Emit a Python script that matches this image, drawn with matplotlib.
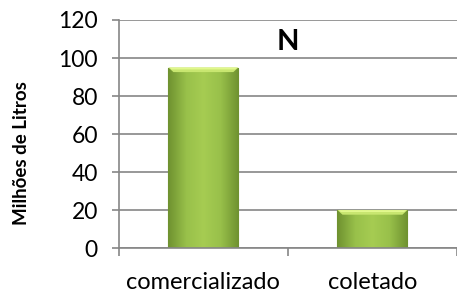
import numpy as np
import matplotlib.pyplot as plt
from matplotlib.colors import LinearSegmentedColormap

categories = ['comercializado', 'coletado']
values = [95, 20]
yticks = [0, 20, 40, 60, 80, 100, 120]

plt.rcParams['font.family'] = ['Lato', 'DejaVu Sans']

fig = plt.figure(figsize=(4.57, 2.94), dpi=100)
ax = fig.add_axes([0.260, 0.156, 0.74, 0.776])

x = np.arange(len(categories))
bw = 0.414
bars = ax.bar(x, values, width=bw, color='#9bc24a', edgecolor='#6f8f30', linewidth=0.8, zorder=3)

# soft gradient inside each bar, lighter bevel at the top
cmap = LinearSegmentedColormap.from_list('g', ['#6f9230', '#98c04a', '#a6cc52', '#98c04a', '#6f9230'])
grad = np.linspace(0, 1, 64).reshape(1, -1)
for b in bars:
    x0, w, h = b.get_x(), b.get_width(), b.get_height()
    im = ax.imshow(grad, cmap=cmap, aspect='auto', extent=[x0, x0 + w, 0, h], zorder=3.5)
    im.set_clip_path(b)
    ax.fill([x0, x0 + w, x0 + w - 0.03, x0 + 0.03], [h, h, h - 2.4, h - 2.4],
            color='#c8e670', lw=0, zorder=4)
    ax.fill([x0 + 0.005, x0 + w - 0.005, x0 + w - 0.02, x0 + 0.02], [h, h, h - 1.0, h - 1.0],
            color='#e2f88e', lw=0, zorder=4.1)

ax.set_xlim(-0.5, 1.5)
ax.set_ylim(0, 120)
ax.set_yticks(yticks)
ax.set_yticklabels([str(v) for v in yticks], fontsize=16.5)
ax.set_xticks(x)
ax.set_xticklabels(categories, fontsize=17)
ax.set_xticks([-0.5, 0.5, 1.5], minor=True)
ax.tick_params(axis='x', which='major', length=0, pad=17)
ax.tick_params(axis='x', which='minor', length=6, color='#868686', width=1.2)
ax.tick_params(axis='y', length=5, color='#868686', width=1.2, pad=10)

ax.yaxis.grid(True, color='#868686', linewidth=1.2, zorder=0)
ax.set_axisbelow(True)
for s in ['top', 'right']:
    ax.spines[s].set_visible(False)
for s in ['left', 'bottom']:
    ax.spines[s].set_color('#868686')
    ax.spines[s].set_linewidth(1.2)
ax.spines['bottom'].set_zorder(5)

ax.text(0.5, 108.5, 'N', fontsize=21, fontweight='bold', ha='center', va='center')
fig.text(0.048, 0.48, 'Milhões de Litros', rotation=90, fontsize=13.5, fontweight='bold',
         ha='center', va='center')

fig.savefig('out.png', dpi=100)
